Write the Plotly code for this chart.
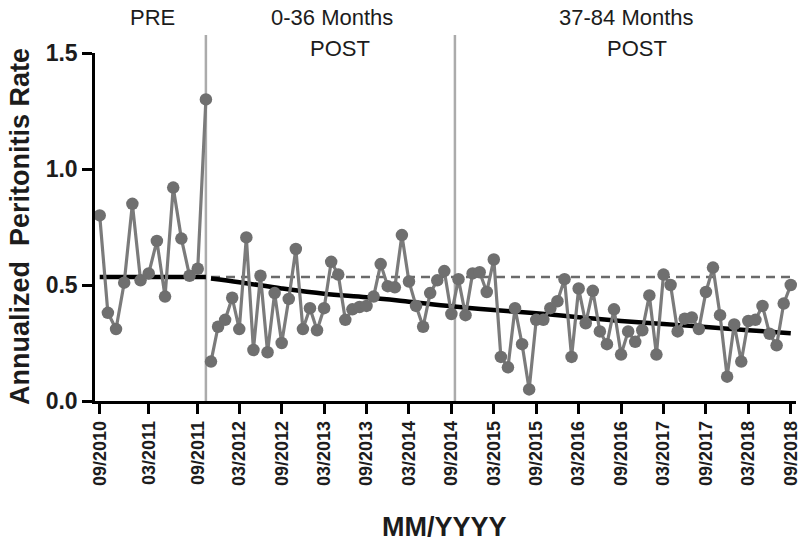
import plotly.graph_objects as go

# ---------------- data ----------------
pre_values = [0.80, 0.38, 0.31, 0.51, 0.85, 0.52, 0.55, 0.69, 0.45, 0.92, 0.70, 0.54, 0.57, 1.30]
post_values = [0.17, 0.32, 0.35, 0.445, 0.31, 0.705, 0.22, 0.54, 0.21, 0.465,
               0.25, 0.44, 0.655, 0.31, 0.40, 0.305, 0.40, 0.60, 0.545, 0.35,
               0.395, 0.405, 0.41, 0.45, 0.59, 0.495, 0.49, 0.715, 0.515, 0.41,
               0.32, 0.465, 0.52, 0.56, 0.375, 0.525, 0.37, 0.55, 0.555, 0.47,
               0.61, 0.19, 0.145, 0.40, 0.245, 0.05, 0.35, 0.35, 0.40, 0.43,
               0.525, 0.19, 0.485, 0.335, 0.475, 0.30, 0.245, 0.395, 0.20, 0.30,
               0.255, 0.305, 0.455, 0.20, 0.545, 0.50, 0.30, 0.355, 0.36, 0.31,
               0.47, 0.575, 0.37, 0.105, 0.33, 0.17, 0.345, 0.35, 0.41, 0.29,
               0.24, 0.42, 0.50]
pre_trend_level = 0.535
post_trend_months = [14, 18, 24, 30, 36, 42, 48, 54, 60, 66, 72, 78, 84, 90, 96]
post_trend_values = [0.528, 0.512, 0.485, 0.462, 0.447, 0.428, 0.408, 0.392,
                     0.378, 0.361, 0.345, 0.332, 0.319, 0.305, 0.292]
counterfactual_level = 0.535
pre_tick_labels = ["09/2010", "03/2011", "09/2011"]
post_tick_labels = ["03/2012", "09/2012", "03/2013", "09/2013", "03/2014", "09/2014",
                    "03/2015", "09/2015", "03/2016", "09/2016", "03/2017", "09/2017",
                    "03/2018", "09/2018"]
phase_labels = ["PRE", "0-36 Months", "37-84 Months"]
intervention_month = 13     # last PRE month (10/2011)
phase2_boundary = 48.5      # between 09/2014 and 10/2014
# --------------------------------------


def month_index(label):
    m, y = label.split("/")
    return (int(y) - 2010) * 12 + (int(m) - 9)


pre_x = list(range(len(pre_values)))
post_x = list(range(len(pre_values), len(pre_values) + len(post_values)))

PT_COLOR = "#6f6f6f"
LINE_COLOR = "#7b7b7b"
FONT = "Liberation Sans, Arial, sans-serif"
TXT = "#1c1c1c"

fig = go.Figure()

fig.add_trace(go.Scatter(x=[post_x[0], post_x[-1]], y=[counterfactual_level] * 2,
                         xaxis="x2", yaxis="y", mode="lines",
                         line=dict(color="#6a6a6a", width=2.5, dash="9px,6px"),
                         hoverinfo="skip"))
fig.add_trace(go.Scatter(x=[pre_x[0], pre_x[-1]], y=[pre_trend_level] * 2,
                         xaxis="x", yaxis="y", mode="lines",
                         line=dict(color="black", width=4.5), hoverinfo="skip"))
fig.add_trace(go.Scatter(x=post_trend_months, y=post_trend_values,
                         xaxis="x2", yaxis="y", mode="lines",
                         line=dict(color="black", width=4.5, shape="spline"),
                         hoverinfo="skip"))
fig.add_trace(go.Scatter(x=pre_x, y=pre_values, xaxis="x", yaxis="y",
                         mode="lines+markers", cliponaxis=False,
                         line=dict(color=LINE_COLOR, width=3.2),
                         marker=dict(color=PT_COLOR, size=12.5)))
fig.add_trace(go.Scatter(x=post_x, y=post_values, xaxis="x2", yaxis="y",
                         mode="lines+markers", cliponaxis=False,
                         line=dict(color=LINE_COLOR, width=3.2),
                         marker=dict(color=PT_COLOR, size=12.5)))

axis_common = dict(showline=True, linecolor="black", linewidth=2.5,
                   ticks="outside", ticklen=10, tickwidth=2.5, tickcolor="black",
                   showgrid=False, zeroline=False, tickangle=-90, automargin=False,
                   ticklabeloverflow="allow",
                   tickfont=dict(family=FONT, size=18, color=TXT, weight="bold"))

D = 0.1619
fig.update_layout(
    width=799, height=546,
    margin=dict(l=95, r=3, t=53, b=145),
    plot_bgcolor="white", paper_bgcolor="white",
    showlegend=False,
    xaxis=dict(domain=[0, D], range=[-0.575, 13.317], anchor="y",
               tickmode="array",
               tickvals=[month_index(l) for l in pre_tick_labels],
               ticktext=pre_tick_labels, **axis_common),
    xaxis2=dict(domain=[D, 1], range=[13.646, 96.74], anchor="y",
                tickmode="array",
                tickvals=[month_index(l) for l in post_tick_labels],
                ticktext=post_tick_labels, **axis_common),
    yaxis=dict(range=[0, 1.5], tickvals=[0, 0.5, 1.0, 1.5], tickformat=".1f",
               showline=True, linecolor="black", linewidth=2.5, automargin=False,
               ticks="outside", ticklen=10, tickwidth=2.5, tickcolor="black",
               showgrid=False, zeroline=False,
               tickfont=dict(family=FONT, size=23, color=TXT, weight="bold")),
    shapes=[
        dict(type="line", xref="x", yref="paper", x0=intervention_month, x1=intervention_month,
             y0=0, y1=1.052, line=dict(color="#ababab", width=2.5), layer="below"),
        dict(type="line", xref="x2", yref="paper", x0=phase2_boundary, x1=phase2_boundary,
             y0=0, y1=1.052, line=dict(color="#ababab", width=2.5), layer="below"),
    ],
)

ann_font = dict(family=FONT, size=22, color=TXT)
annotations = [
    dict(text=phase_labels[0], x=(152 - 95) / 701, y=(401 - 18) / 348),
    dict(text=phase_labels[1], x=(332 - 95) / 701, y=(401 - 18) / 348),
    dict(text="POST", x=(340 - 95) / 701, y=(401 - 48) / 348),
    dict(text=phase_labels[2], x=(626 - 95) / 701, y=(401 - 18) / 348),
    dict(text="POST", x=(637 - 95) / 701, y=(401 - 48) / 348),
]
for a in annotations:
    fig.add_annotation(xref="paper", yref="paper", showarrow=False,
                       xanchor="center", yanchor="middle", font=ann_font, **a)

fig.add_annotation(text="Annualized\u00a0\u00a0Peritonitis Rate", xref="paper", yref="paper",
                   x=(20 - 95) / 701, y=(401 - 227) / 348, textangle=-90,
                   showarrow=False, xanchor="center", yanchor="middle",
                   font=dict(family=FONT, size=27, color=TXT, weight="bold"))
fig.add_annotation(text="MM/YYYY", xref="paper", yref="paper",
                   x=(444 - 95) / 701, y=(401 - 527) / 348,
                   showarrow=False, xanchor="center", yanchor="middle",
                   font=dict(family=FONT, size=27, color=TXT, weight="bold"))

fig.write_html("out.html", config={"displayModeBar": False},
               post_script="document.body.style.margin='0';document.body.style.overflow='hidden';")
